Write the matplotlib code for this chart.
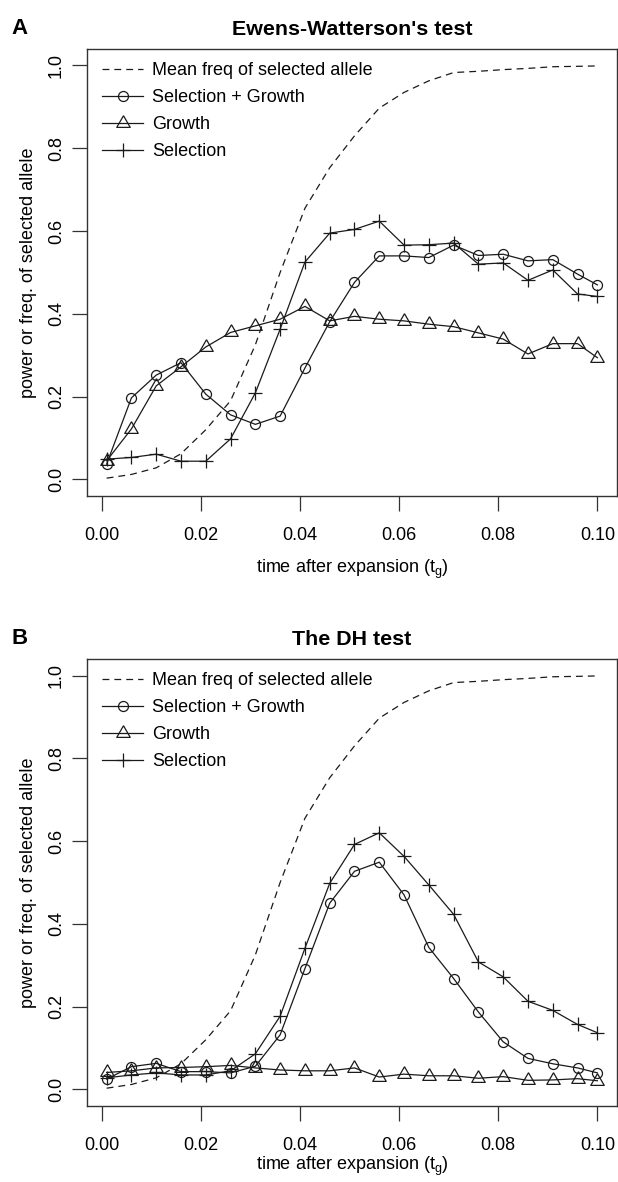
import numpy as np
import matplotlib
matplotlib.use("Agg")
import matplotlib.pyplot as plt

plt.rcParams['font.family'] = ['Liberation Sans', 'DejaVu Sans']

# time after expansion (t_g)
tg = [0.001, 0.006, 0.011, 0.016, 0.021, 0.026, 0.031, 0.036, 0.041, 0.046, 0.051,
      0.056, 0.061, 0.066, 0.071, 0.076, 0.081, 0.086, 0.091, 0.096, 0.100]

# mean frequency of the selected allele (same simulations in both panels)
mean_freq = [0.003, 0.012, 0.028, 0.062, 0.120, 0.190, 0.325, 0.500, 0.655, 0.753, 0.830,
             0.897, 0.935, 0.963, 0.983, 0.986, 0.990, 0.993, 0.997, 0.998, 0.999]

# panel A: Ewens-Watterson's test
ew_sel_growth = [0.037, 0.197, 0.252, 0.282, 0.206, 0.156, 0.133, 0.153, 0.269, 0.381, 0.476,
                 0.540, 0.540, 0.536, 0.566, 0.541, 0.544, 0.528, 0.531, 0.496, 0.470]
ew_growth = [0.045, 0.122, 0.226, 0.272, 0.320, 0.355, 0.371, 0.387, 0.418, 0.383, 0.394,
             0.387, 0.383, 0.375, 0.369, 0.354, 0.339, 0.303, 0.328, 0.328, 0.294]
ew_selection = [0.049, 0.053, 0.061, 0.044, 0.044, 0.098, 0.209, 0.363, 0.525, 0.595, 0.604,
                0.624, 0.566, 0.567, 0.571, 0.520, 0.523, 0.481, 0.506, 0.448, 0.442]

# panel B: the DH test
dh_sel_growth = [0.025, 0.055, 0.063, 0.043, 0.043, 0.040, 0.056, 0.132, 0.292, 0.450, 0.527,
                 0.549, 0.470, 0.343, 0.268, 0.187, 0.115, 0.075, 0.062, 0.052, 0.040]
dh_growth = [0.041, 0.045, 0.052, 0.053, 0.055, 0.058, 0.052, 0.047, 0.045, 0.045, 0.052,
             0.030, 0.037, 0.033, 0.033, 0.027, 0.031, 0.022, 0.023, 0.026, 0.021]
dh_selection = [0.028, 0.035, 0.040, 0.035, 0.035, 0.045, 0.086, 0.177, 0.341, 0.498, 0.592,
                0.620, 0.563, 0.494, 0.423, 0.308, 0.272, 0.213, 0.191, 0.157, 0.137]

x_ticks = [0.00, 0.02, 0.04, 0.06, 0.08, 0.10]
y_ticks = [0.0, 0.2, 0.4, 0.6, 0.8, 1.0]

# R style equilateral triangle (pch=2), centred on its centroid
tri = [(0, 1.155), (-1, -0.577), (1, -0.577), (0, 1.155)]

FS = 13
ink = '#1a1a1a'


def draw_panel(ax, sel_growth, growth, selection, title, letter, xlabpad=10):
    ax.plot(tg, mean_freq, ls=(0, (5.5, 4)), lw=0.9, color=ink,
            label='Mean freq of selected allele')
    ax.plot(tg, sel_growth, lw=0.9, color=ink, marker='o', ms=7.2, mfc='none',
            mec=ink, mew=0.9, label='Selection + Growth')
    ax.plot(tg, growth, lw=0.9, color=ink, marker=tri, ms=11.2, mfc='none',
            mec=ink, mew=0.9, label='Growth')
    ax.plot(tg, selection, lw=0.9, color=ink, marker='+', ms=10.5,
            mec=ink, mew=0.9, label='Selection')
    ax.set_xlim(-0.00296, 0.10396)
    ax.set_ylim(-0.04, 1.04)
    ax.set_xticks(x_ticks)
    ax.set_xticklabels(['%.2f' % v for v in x_ticks])
    ax.set_yticks(y_ticks)
    ax.set_yticklabels(['%.1f' % v for v in y_ticks], rotation=90, va='center')
    ax.tick_params(axis='both', length=11, width=0.9, color='#333333',
                   labelsize=FS, direction='out')
    ax.tick_params(axis='x', pad=11)
    ax.tick_params(axis='y', pad=5)
    for s in ax.spines.values():
        s.set_linewidth(1.0)
        s.set_color('#333333')
    ax.set_xlabel('time after expansion (t$_\\mathregular{g}$)', fontsize=FS, labelpad=xlabpad)
    ax.set_ylabel('power or freq. of selected allele', fontsize=FS, labelpad=8)
    ax.set_title(title, fontsize=15.4, fontweight='bold', pad=10)
    ax.text(-0.142, 1.046, letter, transform=ax.transAxes, fontsize=16,
            fontweight='bold', ha='left', va='center')
    ax.legend(loc='upper left', bbox_to_anchor=(0.029, 0.97), frameon=False,
              fontsize=FS, handlelength=2.25, handletextpad=0.5, labelspacing=0.55,
              borderpad=0, borderaxespad=0)


fig = plt.figure(figsize=(6.18, 11.82), dpi=100)
ax_a = fig.add_axes([0.1408, 0.5804, 0.8576, 0.3782])
ax_b = fig.add_axes([0.1408, 0.0643, 0.8576, 0.3782])

draw_panel(ax_a, ew_sel_growth, ew_growth, ew_selection, "Ewens-Watterson's test", 'A')
draw_panel(ax_b, dh_sel_growth, dh_growth, dh_selection, 'The DH test', 'B', xlabpad=1)

fig.savefig('out.png', dpi=100)
